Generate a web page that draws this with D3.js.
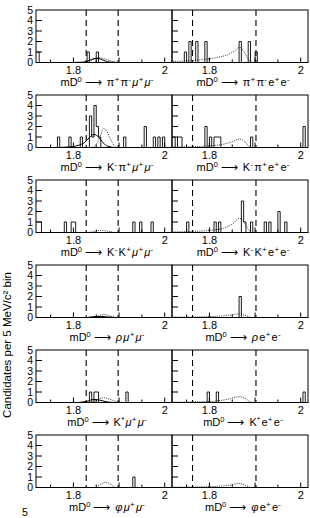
<!DOCTYPE html>
<html>
<head>
<meta charset="utf-8">
<script src="https://cdn.jsdelivr.net/npm/d3@7"></script>
<style>
  body { margin: 0; background: #fff; }
  text { font-family: "Liberation Sans", Arial, sans-serif; fill: #000; }
</style>
</head>
<body>
<div id="chart"></div>
<script>
// ---- data ----
const yTicks = [0, 1, 2, 3, 4, 5];
const xTickLabels = [1.8, 2];
const muWindow = [1.828, 1.898];
const eWindow = [1.763, 1.902];
const binWidth = 0.005;

// bins: [low edge, entries]
const barsPiPiMuMu = [[1.72, 1], [1.83, 1], [1.85, 1]];
const barsPiPiEE = [[1.745, 1], [1.755, 2], [1.77, 2], [1.79, 2], [1.865, 2], [1.885, 2], [1.9, 1]];
const barsKPiMuMu = [[1.765, 1], [1.79, 1], [1.815, 1], [1.835, 3], [1.84, 1], [1.845, 4], [1.85, 2], [1.855, 1],
  [1.91, 1], [1.955, 2], [1.975, 1], [1.985, 1], [1.995, 1]];
const barsKPiEE = [[1.72, 1], [1.73, 1], [1.735, 1], [1.79, 2], [1.8, 1], [1.81, 1], [1.815, 1], [1.82, 1], [1.89, 1], [2.005, 2]];
const barsKKMuMu = [[1.72, 1], [1.725, 1], [1.78, 1], [1.795, 1], [1.8, 1], [1.93, 1], [1.945, 1], [1.97, 1]];
const barsKKEE = [[1.75, 1], [1.81, 1], [1.82, 1], [1.87, 3], [1.875, 1], [1.89, 1], [1.92, 1], [1.93, 1], [1.95, 2], [1.965, 1]];
const barsRhoMuMu = [];
const barsRhoEE = [[1.865, 2]];
const barsKstMuMu = [[1.835, 1], [1.845, 1], [1.85, 1], [1.915, 1]];
const barsKstEE = [[1.795, 1], [1.815, 1], [2.005, 1]];
const barsPhiMuMu = [[1.93, 1]];
const barsPhiEE = [];

// solid (signal) and dotted (background) curves: [mass, entries]
const sigPiPiMuMu = [[1.8, 0], [1.82, 0.03], [1.83, 0.12], [1.84, 0.3], [1.85, 0.4], [1.86, 0.32], [1.87, 0.14], [1.88, 0.04], [1.9, 0]];
const bkgPiPiMuMu = [[1.82, 0], [1.835, 0.1], [1.845, 0.3], [1.855, 0.45], [1.865, 0.4], [1.875, 0.25], [1.885, 0.1], [1.895, 0.02], [1.9, 0]];
const sigKPiMuMu = [[1.76, 0], [1.79, 0.05], [1.81, 0.2], [1.825, 0.5], [1.835, 0.95], [1.845, 1.25], [1.855, 1.0], [1.865, 0.45], [1.875, 0.12], [1.89, 0]];
const bkgKPiMuMu = [[1.84, 0], [1.85, 0.3], [1.858, 1.0], [1.866, 1.8], [1.874, 1.5], [1.882, 0.7], [1.89, 0.15], [1.895, 0]];
const sigKKMuMu = [];
const bkgKKMuMu = [[1.83, 0], [1.845, 0.08], [1.86, 0.2], [1.875, 0.12], [1.89, 0]];
const sigRhoMuMu = [[1.83, 0], [1.845, 0.08], [1.86, 0.1], [1.875, 0.05], [1.89, 0]];
const bkgRhoMuMu = [[1.84, 0], [1.855, 0.15], [1.868, 0.3], [1.88, 0.15], [1.895, 0]];
const sigKstMuMu = [[1.81, 0], [1.83, 0.12], [1.845, 0.3], [1.86, 0.2], [1.875, 0.05], [1.89, 0]];
const bkgKstMuMu = [[1.83, 0], [1.85, 0.2], [1.865, 0.45], [1.88, 0.3], [1.895, 0.08], [1.91, 0]];
const sigPhiMuMu = [];
const bkgPhiMuMu = [[1.85, 0], [1.86, 0.3], [1.87, 0.5], [1.88, 0.35], [1.89, 0]];
const bkgPiPiEE = [[1.72, 0.1], [1.75, 0.15], [1.78, 0.25], [1.8, 0.35], [1.82, 0.5], [1.84, 0.75], [1.855, 1.1], [1.866, 1.45], [1.875, 1.1], [1.884, 0.4], [1.89, 0.08], [1.895, 0]];
const bkgKPiEE = [[1.72, 0.05], [1.76, 0.08], [1.8, 0.15], [1.83, 0.3], [1.85, 0.55], [1.866, 0.8], [1.876, 0.6], [1.885, 0.2], [1.892, 0]];
const bkgKKEE = [[1.72, 0.05], [1.76, 0.1], [1.8, 0.2], [1.83, 0.4], [1.85, 0.8], [1.866, 1.35], [1.876, 1.0], [1.885, 0.3], [1.892, 0]];
const bkgRhoEE = [[1.72, 0.03], [1.77, 0.05], [1.81, 0.1], [1.84, 0.2], [1.866, 0.35], [1.878, 0.2], [1.888, 0.05], [1.892, 0]];
const bkgKstEE = [[1.72, 0.03], [1.77, 0.06], [1.81, 0.12], [1.84, 0.3], [1.866, 0.55], [1.878, 0.4], [1.888, 0.1], [1.893, 0]];
const bkgPhiEE = [[1.72, 0.03], [1.77, 0.05], [1.81, 0.1], [1.84, 0.2], [1.866, 0.38], [1.878, 0.22], [1.888, 0.05], [1.892, 0]];

// final states, as [particle, charge] pairs
const fsPiPiMuMu = [["π", "+"], ["π", "-"], ["μ", "+"], ["μ", "-"]];
const fsPiPiEE = [["π", "+"], ["π", "-"], ["e", "+"], ["e", "-"]];
const fsKPiMuMu = [["K", "-"], ["π", "+"], ["μ", "+"], ["μ", "-"]];
const fsKPiEE = [["K", "-"], ["π", "+"], ["e", "+"], ["e", "-"]];
const fsKKMuMu = [["K", "-"], ["K", "+"], ["μ", "+"], ["μ", "-"]];
const fsKKEE = [["K", "-"], ["K", "+"], ["e", "+"], ["e", "-"]];
const fsRhoMuMu = [["ρ", ""], ["μ", "+"], ["μ", "-"]];
const fsRhoEE = [["ρ", ""], ["e", "+"], ["e", "-"]];
const fsKstMuMu = [["K", "*"], ["μ", "+"], ["μ", "-"]];
const fsKstEE = [["K", "*"], ["e", "+"], ["e", "-"]];
const fsPhiMuMu = [["φ", ""], ["μ", "+"], ["μ", "-"]];
const fsPhiEE = [["φ", ""], ["e", "+"], ["e", "-"]];

// grid of panels (row by row: muon column, electron column)
const panels = [
  { bars: barsPiPiMuMu, sig: sigPiPiMuMu, bkg: bkgPiPiMuMu, fs: fsPiPiMuMu, win: muWindow },
  { bars: barsPiPiEE, sig: [], bkg: bkgPiPiEE, fs: fsPiPiEE, win: eWindow },
  { bars: barsKPiMuMu, sig: sigKPiMuMu, bkg: bkgKPiMuMu, fs: fsKPiMuMu, win: muWindow },
  { bars: barsKPiEE, sig: [], bkg: bkgKPiEE, fs: fsKPiEE, win: eWindow },
  { bars: barsKKMuMu, sig: sigKKMuMu, bkg: bkgKKMuMu, fs: fsKKMuMu, win: muWindow },
  { bars: barsKKEE, sig: [], bkg: bkgKKEE, fs: fsKKEE, win: eWindow },
  { bars: barsRhoMuMu, sig: sigRhoMuMu, bkg: bkgRhoMuMu, fs: fsRhoMuMu, win: muWindow },
  { bars: barsRhoEE, sig: [], bkg: bkgRhoEE, fs: fsRhoEE, win: eWindow },
  { bars: barsKstMuMu, sig: sigKstMuMu, bkg: bkgKstMuMu, fs: fsKstMuMu, win: muWindow },
  { bars: barsKstEE, sig: [], bkg: bkgKstEE, fs: fsKstEE, win: eWindow },
  { bars: barsPhiMuMu, sig: sigPhiMuMu, bkg: bkgPhiMuMu, fs: fsPhiMuMu, win: muWindow },
  { bars: barsPhiEE, sig: [], bkg: bkgPhiEE, fs: fsPhiEE, win: eWindow }
];

// ---- layout ----
const W = 310, H = 518;
const padLeft = 36, pw = 136, ph = 52.5, padTop = 10, rowStep = 85;

const svg = d3.select("#chart").append("svg")
  .attr("width", W).attr("height", H);

const x = d3.scaleLinear().domain([1.718, 2.016]).range([0, pw]);
const y = d3.scaleLinear().domain([0, 5]).range([ph, 0]);

const histStart = 1.72;
const nBins = Math.round((2.015 - histStart) / binWidth);

const line = d3.line().x(d => x(d[0])).y(d => y(d[1]));
const smooth = d3.line().x(d => x(d[0])).y(d => y(d[1])).curve(d3.curveMonotoneX);

panels.forEach(function (p, i) {
  const col = i % 2, row = Math.floor(i / 2);
  const g = svg.append("g")
    .attr("transform", `translate(${padLeft + col * pw}, ${padTop + row * rowStep})`);

  // histogram outline as steps
  const counts = new Map(p.bars.map(b => [Math.round((b[0] - histStart) / binWidth), b[1]]));
  const pts = [];
  for (let k = 0; k < nBins; k++) {
    const n = counts.get(k) || 0;
    const lo = histStart + k * binWidth;
    pts.push([lo, n], [lo + binWidth, n]);
  }
  g.append("path").attr("d", line(pts))
    .attr("fill", "none").attr("stroke", "#000").attr("stroke-width", 0.9);

  // curves
  if (p.bkg.length) {
    g.append("path").attr("d", smooth(p.bkg))
      .attr("fill", "none").attr("stroke", "#000").attr("stroke-width", 0.8)
      .attr("stroke-dasharray", "1,1.2");
  }
  if (p.sig.length) {
    g.append("path").attr("d", smooth(p.sig))
      .attr("fill", "none").attr("stroke", "#000").attr("stroke-width", 1);
  }

  // signal window
  p.win.forEach(function (m) {
    g.append("line")
      .attr("x1", x(m)).attr("x2", x(m))
      .attr("y1", 0).attr("y2", ph)
      .attr("stroke", "#000").attr("stroke-width", 1.1)
      .attr("stroke-dasharray", "6,4");
  });

  // frame
  g.append("rect").attr("x", 0).attr("y", 0).attr("width", pw).attr("height", ph)
    .attr("fill", "none").attr("stroke", "#000").attr("stroke-width", 1);

  // y ticks inside the frame
  g.selectAll(".yt").data(yTicks.slice(1, 5)).enter().append("line")
    .attr("x1", 0).attr("x2", 6)
    .attr("y1", d => y(d)).attr("y2", d => y(d))
    .attr("stroke", "#000").attr("stroke-width", 1);

  // x ticks inside the frame
  g.selectAll(".xt").data(d3.range(1.75, 2.001, 0.05)).enter().append("line")
    .attr("x1", d => x(d)).attr("x2", d => x(d))
    .attr("y1", ph).attr("y2", d => ph - (Math.abs(d * 10 - Math.round(d * 10)) < 0.01 ? 5 : 3))
    .attr("stroke", "#000").attr("stroke-width", 1);

  if (col === 0) {
    g.selectAll(".yl").data(yTicks).enter().append("text")
      .attr("x", -3).attr("y", d => y(d))
      .attr("dy", "0.36em")
      .attr("text-anchor", "end")
      .attr("font-size", 10.5)
      .text(d => d);
  }

  g.selectAll(".xl").data(xTickLabels).enter().append("text")
    .attr("x", d => x(d)).attr("y", ph + 11.5)
    .attr("text-anchor", "middle")
    .attr("font-size", 11)
    .text(d => d === 2 ? "2" : d3.format(".1f")(d));

  // decay label
  const t = g.append("text")
    .attr("x", pw / 2 + 3).attr("y", ph + 23.5)
    .attr("text-anchor", "middle")
    .attr("font-size", 11);
  t.append("tspan").text("mD");
  t.append("tspan").attr("font-size", 7.5).attr("dy", -4.5).text("0");
  t.append("tspan").attr("dy", 4.5).attr("dx", 3).attr("font-size", 12).text("\u27f6");
  let raised = false;
  p.fs.forEach(function (f, j) {
    const it = (f[0] === "μ" || f[0] === "ρ" || f[0] === "φ");
    t.append("tspan")
      .attr("dx", j === 0 ? 5 : 1.2)
      .attr("dy", raised ? 4.5 : 0)
      .attr("font-style", it ? "italic" : "normal")
      .text(f[0]);
    raised = false;
    if (f[1]) {
      t.append("tspan").attr("font-size", 8).attr("dx", 0.3).attr("dy", -4.5).text(f[1]);
      raised = true;
    }
  });
});

// y axis title
svg.append("text")
  .attr("transform", "translate(11, 345) rotate(-90)")
  .attr("text-anchor", "middle")
  .attr("font-size", 11.5)
  .text("Candidates per 5 MeV/c\u00b2 bin");

// cut-off tick label of the next row
svg.append("text").attr("x", 22).attr("y", 516).attr("font-size", 10.5).text("5");
</script>
</body>
</html>
